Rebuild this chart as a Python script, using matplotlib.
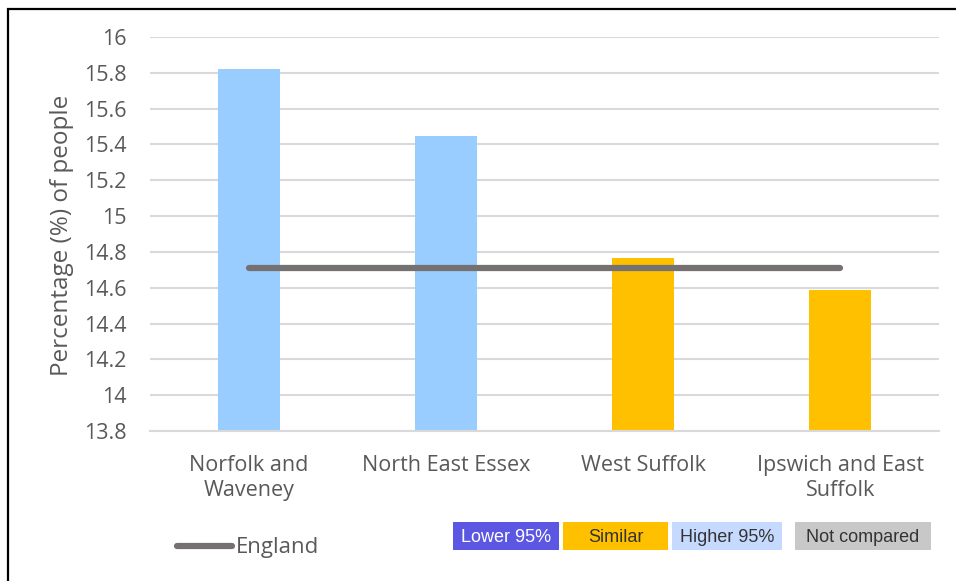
import matplotlib
matplotlib.use("Agg")
import matplotlib.pyplot as plt
from matplotlib.patches import Rectangle
from matplotlib.lines import Line2D

plt.rcParams['font.family'] = ['Open Sans', 'DejaVu Sans']

# Data
areas = ["Norfolk and\nWaveney", "North East Essex", "West Suffolk", "Ipswich and East\nSuffolk"]
values = [15.82, 15.45, 14.765, 14.59]
comparison = ["Higher 95%", "Higher 95%", "Similar", "Similar"]
england = [14.71, 14.71, 14.71, 14.71]
y_ticks = [13.8, 14.0, 14.2, 14.4, 14.6, 14.8, 15.0, 15.2, 15.4, 15.6, 15.8, 16.0]
y_tick_labels = ["13.8", "14", "14.2", "14.4", "14.6", "14.8", "15", "15.2", "15.4", "15.6", "15.8", "16"]

bar_colours = {"Lower 95%": "#5B57E3", "Similar": "#FFC000",
               "Higher 95%": "#99CCFF", "Not compared": "#C8C8C8"}
key_colours = {"Lower 95%": "#5B57E3", "Similar": "#FFC000",
               "Higher 95%": "#C6DAFF", "Not compared": "#C8C8C8"}
key_text = {"Lower 95%": "white", "Similar": "#333333",
            "Higher 95%": "#333333", "Not compared": "#333333"}

W, H = 956, 581
fig = plt.figure(figsize=(W / 100, H / 100), dpi=100)
ax = fig.add_axes([150 / W, 1 - 431 / H, (939 - 150) / W, (431 - 37) / H])

x = range(len(areas))
ax.bar(x, values, width=0.315, color=[bar_colours[c] for c in comparison],
       zorder=2, bottom=0)
ax.plot(x, england, color="#767171", lw=4.5, solid_capstyle="round", zorder=3)

ax.set_ylim(13.8, 16.0)
ax.set_xlim(-0.5, len(areas) - 0.5)
ax.set_yticks(y_ticks)
ax.set_yticklabels(y_tick_labels)
ax.set_xticks(list(x))
ax.set_xticklabels(areas, linespacing=1.3)
ax.tick_params(axis="both", length=0, colors="#595959")
ax.tick_params(axis="y", pad=17, labelsize=15.5)
ax.tick_params(axis="x", pad=17, labelsize=15.5)
ax.yaxis.grid(True, color="#D9D9D9", lw=1.5, zorder=0)
for s in ["top", "right", "left"]:
    ax.spines[s].set_visible(False)
ax.spines["bottom"].set_color("#D9D9D9")
ax.spines["bottom"].set_linewidth(1.5)
ax.set_ylabel("Percentage (%) of people", fontsize=17.5, color="#595959")
ax.yaxis.set_label_coords(74 / W, 1 - 235 / H, transform=fig.transFigure)

# Outer frame
fig.patches.append(Rectangle((7.5 / W, -0.1), 1.2, 1 - 8.5 / H + 0.1,
                             transform=fig.transFigure, fill=False,
                             edgecolor="black", lw=1.6))

# England legend entry
fig.add_artist(Line2D([177 / W, 232 / W], [1 - 546 / H, 1 - 546 / H],
                      color="#767171", lw=4.5, solid_capstyle="round",
                      transform=fig.transFigure))
fig.text(236 / W, 1 - 547 / H, "England", fontsize=16, color="#595959",
         va="center", ha="left")

# Comparison colour key
keys = [("Lower 95%", 453, 559), ("Similar", 563, 668),
        ("Higher 95%", 672, 782), ("Not compared", 795, 931)]
for label, x0, x1 in keys:
    fig.patches.append(Rectangle((x0 / W, 1 - 550 / H), (x1 - x0) / W, 28 / H,
                                 transform=fig.transFigure,
                                 facecolor=key_colours[label], edgecolor="none"))
    fig.text((x0 + x1) / 2 / W, 1 - 537 / H, label, fontsize=13,
             color=key_text[label], ha="center", va="center",
             family=['Liberation Sans', 'DejaVu Sans'])

fig.savefig("out.png", dpi=100)
